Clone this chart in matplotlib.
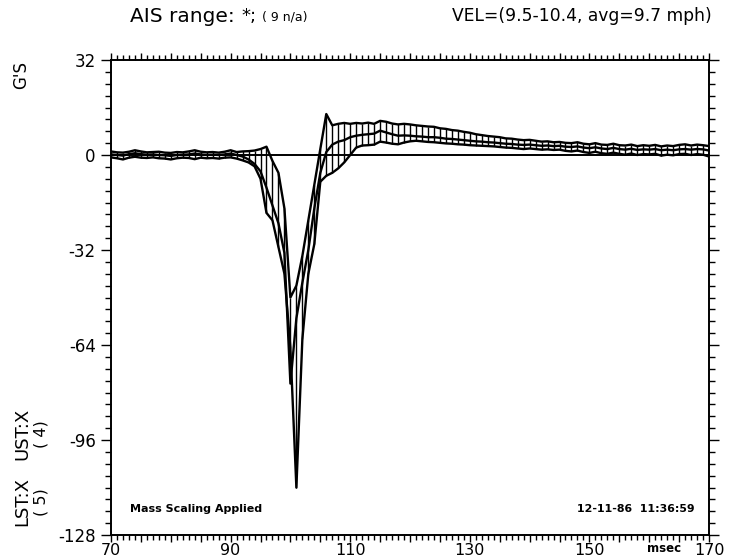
import matplotlib
matplotlib.use("Agg")
import matplotlib.pyplot as plt
from matplotlib.ticker import MultipleLocator, FixedLocator, FuncFormatter
import numpy as np

# ---- data -------------------------------------------------------------
time_ms = list(range(70, 171))

upper = [
    1.2, 0.9, 0.8, 1.1, 1.6, 1.2, 0.9, 1.0, 1.1, 0.8,      # 70-79
    0.7, 1.0, 0.9, 1.2, 1.6, 1.1, 0.9, 1.0, 0.8, 1.1,      # 80-89
    1.6, 1.0, 1.2, 1.3, 1.5, 2.0, 2.8, -2.0, -6.0, -18.0,  # 90-99
    -48.0, -44.0, -34.0, -22.0, -10.0, 2.0, 13.8, 10.0, 10.5, 10.8,  # 100-109
    10.5, 10.8, 10.6, 10.9, 10.5, 11.5, 11.2, 10.6, 10.3, 10.5,      # 110-119
    10.3, 10.0, 9.8, 9.6, 9.5, 9.0, 8.8, 8.4, 8.2, 7.8,    # 120-129
    7.5, 7.0, 6.7, 6.4, 6.2, 6.0, 5.6, 5.5, 5.2, 5.0,      # 130-139
    5.1, 4.8, 4.5, 4.6, 4.3, 4.4, 4.1, 4.0, 4.3, 3.8,      # 140-149
    3.6, 4.0, 3.5, 3.4, 3.8, 3.3, 3.2, 3.5, 3.0, 3.3,      # 150-159
    3.1, 3.4, 2.9, 3.2, 3.0, 3.4, 3.6, 3.2, 3.5, 3.3,      # 160-169
    3.0,                                                    # 170
]

mean = [
    0.2, 0.0, -0.2, 0.3, 0.6, 0.3, 0.1, 0.2, 0.0, -0.1,
    -0.3, 0.0, 0.1, 0.2, 0.5, 0.2, 0.0, 0.1, 0.0, 0.2,
    0.5, 0.0, -0.5, -1.5, -3.0, -5.5, -11.0, -17.0, -23.0, -33.0,
    -77.0, -55.0, -43.0, -32.0, -18.0, -6.0, 1.0, 3.5, 4.5, 5.0,
    6.0, 6.5, 6.8, 7.0, 7.2, 8.2, 7.6, 7.0, 6.5, 6.6,
    6.5, 6.3, 6.2, 6.0, 6.0, 5.8, 5.5, 5.4, 5.2, 5.0,
    4.8, 4.6, 4.5, 4.3, 4.2, 4.0, 3.8, 3.7, 3.5, 3.4,
    3.5, 3.3, 3.1, 3.2, 3.0, 3.1, 2.8, 2.7, 2.9, 2.5,
    2.3, 2.6, 2.2, 2.0, 2.4, 2.0, 1.8, 2.1, 1.7, 1.9,
    1.8, 2.0, 1.6, 1.8, 1.6, 1.9, 2.0, 1.8, 2.0, 1.9,
    1.5,
]

lower = [
    -0.8, -1.1, -1.5, -0.9, -0.6, -0.9, -1.0, -0.8, -1.1, -1.2,
    -1.5, -1.1, -0.9, -1.0, -1.4, -0.9, -1.1, -1.0, -1.2, -0.9,
    -0.8, -1.2, -1.8, -2.5, -3.8, -8.0, -19.5, -22.0, -31.0, -40.0,
    -65.0, -112.0, -62.0, -40.0, -30.0, -9.0, -7.0, -6.0, -4.5, -2.5,
    0.0, 2.5, 3.2, 3.3, 3.5, 4.5, 4.2, 3.8, 3.6, 4.2,
    4.6, 4.8, 4.6, 4.4, 4.3, 4.1, 3.9, 3.8, 3.6, 3.5,
    3.3, 3.2, 3.1, 3.0, 2.9, 2.7, 2.5, 2.4, 2.2, 2.0,
    2.2, 2.0, 1.8, 1.9, 1.7, 1.8, 1.4, 1.2, 1.5, 1.0,
    0.7, 1.1, 0.6, 0.4, 0.8, 0.4, 0.1, 0.5, 0.0, 0.3,
    0.2, 0.4, -0.2, 0.1, -0.1, 0.3, 0.4, 0.0, 0.3, 0.1,
    -0.5,
]

x_labels = {70: "70", 90: "90", 110: "110", 130: "130", 150: "150", 170: "170"}
y_labels = [32, 0, -32, -64, -96, -128]

title_left = "AIS range:"
title_star = "*;"
title_count = "( 9 n/a)"
title_right = "VEL=(9.5-10.4, avg=9.7 mph)"
y_unit = "G'S"
note_left = "Mass Scaling Applied"
stamp = "12-11-86  11:36:59"
x_unit = "msec"

plt.rcParams["font.family"] = ["DejaVu Sans"]

# ---- figure -----------------------------------------------------------
W, H = 731, 560
fig = plt.figure(figsize=(W / 100, H / 100), dpi=100)
L, R, T, B = 111, 709, 60, 535
ax = fig.add_axes([L / W, 1 - B / H, (R - L) / W, (B - T) / H])

x = np.array(time_ms, dtype=float)
up = np.array(upper)
md = np.array(mean)
lo = np.array(lower)

# corridor hatching between the lower and upper bounds
ax.vlines(x, lo, up, color="black", lw=1.0)
for series in (up, md, lo):
    ax.plot(x, series, color="black", lw=1.7, solid_joinstyle="round")
ax.axhline(0, color="black", lw=1.4)

ax.set_xlim(70, 170)
ax.set_ylim(-128, 32)

for s in ax.spines.values():
    s.set_linewidth(1.4)

ax.xaxis.set_major_locator(MultipleLocator(5))
ax.xaxis.set_minor_locator(MultipleLocator(1))
ax.xaxis.set_major_formatter(FuncFormatter(lambda v, p: x_labels.get(int(round(v)), "")))
ax.yaxis.set_major_locator(FixedLocator(y_labels))
ax.yaxis.set_minor_locator(MultipleLocator(4))
ax.yaxis.set_major_formatter(FuncFormatter(lambda v, p: "%d" % v))

ax.tick_params(axis="x", which="both", direction="out", top=True, bottom=True,
               labeltop=False, width=1.0, pad=1, labelsize=11.5)
ax.tick_params(axis="x", which="major", length=5)
ax.tick_params(axis="x", which="minor", length=3.5)
ax.tick_params(axis="y", which="both", direction="out", left=True, right=True,
               labelright=False, width=1.0, pad=4, labelsize=12)
ax.tick_params(axis="y", which="major", length=7)
ax.tick_params(axis="y", which="minor", length=4)

# ---- text -------------------------------------------------------------
def fx(px):
    return px / W


def fy(py):
    return 1 - py / H


fig.text(fx(130), fy(16), title_left, fontsize=14.5, ha="left", va="center")
fig.text(fx(241), fy(16), title_star, fontsize=13, ha="left", va="center")
fig.text(fx(262), fy(17), title_count, fontsize=9, ha="left", va="center")
fig.text(fx(712), fy(16), title_right, fontsize=12.3, ha="right", va="center")

fig.text(fx(21), fy(75), y_unit, fontsize=12, rotation=90, ha="center", va="center")
fig.text(fx(22), fy(502), "LST:X", fontsize=13, rotation=90, ha="center", va="center")
fig.text(fx(22), fy(434), "UST:X", fontsize=13, rotation=90, ha="center", va="center")
fig.text(fx(41), fy(502), "( 5)", fontsize=11.5, rotation=90, ha="center", va="center")
fig.text(fx(41), fy(434), "( 4)", fontsize=11.5, rotation=90, ha="center", va="center")

fig.text(fx(130), fy(509), note_left, fontsize=8, fontweight="bold", ha="left", va="center")
fig.text(fx(695), fy(509), stamp, fontsize=7.9, fontweight="bold", ha="right", va="center")
fig.text(fx(664), fy(549), x_unit, fontsize=8.5, fontweight="bold", ha="center", va="center")

fig.savefig("out.png", dpi=100)
